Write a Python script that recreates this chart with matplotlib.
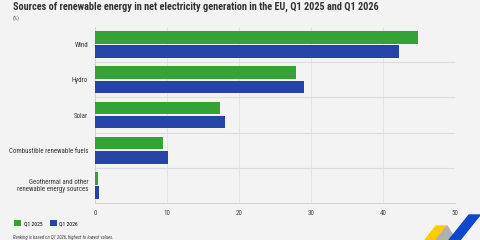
import numpy as np
import matplotlib.pyplot as plt
from matplotlib.patches import Polygon
from matplotlib import font_manager

# Data (%)
categories = ['Wind', 'Hydro', 'Solar', 'Combustible renewable fuels',
              'Geothermal and other\nrenewable energy sources']
q1_2025 = [44.8, 27.9, 17.3, 9.4, 0.4]
q1_2026 = [42.2, 29.0, 18.1, 10.1, 0.5]
series_labels = ['Q1 2025', 'Q1 2026']
xticks = [0, 10, 20, 30, 40, 50]

# narrow font if there is one
names = {f.name for f in font_manager.fontManager.ttflist}
narrow = [n for n in ['Liberation Sans Narrow', 'Roboto Condensed', 'DejaVu Sans Condensed',
                      'Open Sans Condensed', 'Noto Sans Condensed'] if n in names]
plt.rcParams['font.family'] = (narrow[:1] or ['Liberation Sans']) + ['DejaVu Sans']

bg = '#f3f3f3'
green = '#34a234'
blue = '#2644a7'

fig = plt.figure(figsize=(4.8, 2.4), dpi=100, facecolor=bg)
ax = fig.add_axes([95 / 480, 1 - 203 / 240, 360 / 480, 176 / 240], facecolor=bg)

y = np.arange(len(categories))
h = 0.36
ax.barh(y - h / 2 - 0.02, q1_2025, height=h, color=green, label=series_labels[0], zorder=3)
ax.barh(y + h / 2 + 0.02, q1_2026, height=h, color=blue, label=series_labels[1], zorder=3)

ax.set_ylim(len(categories) - 0.5, -0.5)
ax.set_xlim(0, 50)
ax.set_yticks(y)
ax.set_yticklabels(categories, fontsize=5.5, color='#333333', linespacing=1.0)
ax.set_xticks(xticks)
ax.set_xticklabels([str(t) for t in xticks], fontsize=5, color='#444444')
ax.tick_params(axis='both', length=0, pad=5)

for yy in np.arange(-0.5, len(categories), 1.0)[1:-1]:
    ax.axhline(yy, color='#dddddd', lw=0.8, zorder=1)
for xx in xticks[1:]:
    ax.axvline(xx, color='#e0e0e0', lw=0.6, zorder=1)
for s in ['top', 'right']:
    ax.spines[s].set_visible(False)
for s in ['left', 'bottom']:
    ax.spines[s].set_color('#cccccc')
    ax.spines[s].set_linewidth(0.6)

# Titles
title = fig.text(13 / 480, 1 - 7 / 240,
                 'Sources of renewable energy in net electricity generation in the EU, Q1 2025 and Q1 2026',
                 fontsize=7.6, fontweight='bold', color='#333333', va='center', ha='left')
unit = fig.text(13 / 480, 1 - 18 / 240, '(%)', fontsize=4, color='#555555', va='center', ha='left')

# Legend
leg = ax.legend(loc='lower left', bbox_to_anchor=(11 / 480, 1 - 230 / 240), bbox_transform=fig.transFigure,
                ncol=2, frameon=False, fontsize=5, handlelength=0.9, handleheight=0.9,
                handletextpad=0.4, columnspacing=1.2, borderpad=0)

note = fig.text(13 / 480, 1 - 237 / 240, 'Ranking is based on Q1 2026, highest to lowest values.',
                fontsize=3.8, style='italic', color='#444444', va='center', ha='left')

# shrink texts to the widths they have in the reference
renderer = fig.canvas.get_renderer()


def fit(t, target, maxsize):
    t.set_fontsize(maxsize)
    w = t.get_window_extent(renderer).width
    if w > target:
        t.set_fontsize(maxsize * target / w)


fit(title, 362, 7.6)
fit(note, 100, 4.2)
ylabs = ax.get_yticklabels()
fit(ylabs[3], 78, 5.5)
for t in ylabs:
    t.set_fontsize(ylabs[3].get_fontsize())
for t in leg.get_texts():
    fit(t, 19, 5)


# Logo decoration bottom right
def poly(pts, color):
    fig.patches.append(Polygon([(px / 480, 1 - py / 240) for px, py in pts], closed=True,
                               transform=fig.transFigure, color=color, zorder=5))


poly([(425, 240), (436, 226), (447, 226), (436, 240)], '#ffcc00')
poly([(436, 240), (447, 226), (456, 240)], '#b0b0b0')
poly([(449, 240), (469, 215), (480, 215), (460, 240)], '#0e47cb')

fig.savefig('out.png', dpi=100, facecolor=bg)
